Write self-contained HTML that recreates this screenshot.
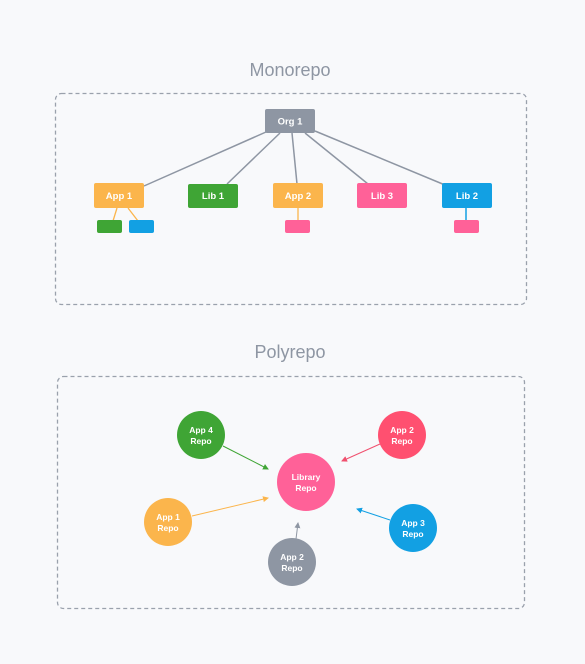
<!DOCTYPE html>
<html><head><style>
body{margin:0;background:#f8f9fb;}
svg text{font-family:"Liberation Sans",sans-serif;}
</style></head><body>
<svg width="585" height="659" viewBox="0 0 585 659" xmlns="http://www.w3.org/2000/svg">
<rect width="585" height="659" fill="#f8f9fb"/>
<defs>
<marker id="ag" markerWidth="6" markerHeight="6" refX="5" refY="3" orient="auto"><path d="M0,0 L6,3 L0,6z" fill="#3fa535"/></marker>
<marker id="ar" markerWidth="6" markerHeight="6" refX="5" refY="3" orient="auto"><path d="M0,0 L6,3 L0,6z" fill="#f0506e"/></marker>
<marker id="ay" markerWidth="6" markerHeight="6" refX="5" refY="3" orient="auto"><path d="M0,0 L6,3 L0,6z" fill="#fbb54c"/></marker>
<marker id="ab" markerWidth="6" markerHeight="6" refX="5" refY="3" orient="auto"><path d="M0,0 L6,3 L0,6z" fill="#12a0e3"/></marker>
<marker id="ax" markerWidth="6" markerHeight="6" refX="5" refY="3" orient="auto"><path d="M0,0 L6,3 L0,6z" fill="#8e96a3"/></marker>
</defs>
<text x="290" y="76" font-size="18" fill="#8e96a3" text-anchor="middle">Monorepo</text>
<rect x="55.5" y="93.5" width="471" height="211" rx="6" fill="none" stroke="#9aa1ac" stroke-width="1.3" stroke-dasharray="4,3"/>
<g stroke="#8e96a3" stroke-width="1.5">
<line x1="266" y1="132" x2="144" y2="186"/>
<line x1="280" y1="133" x2="227" y2="184"/>
<line x1="292" y1="133" x2="297" y2="184"/>
<line x1="305" y1="133" x2="368" y2="184"/>
<line x1="315" y1="131" x2="445" y2="185"/>
</g>
<line x1="117" y1="208" x2="113" y2="221" stroke="#fbb54c" stroke-width="1.3"/>
<line x1="128" y1="208" x2="138" y2="221" stroke="#fbb54c" stroke-width="1.3"/>
<line x1="298" y1="208" x2="298" y2="221" stroke="#fbb54c" stroke-width="1.3"/>
<line x1="466" y1="208" x2="466" y2="221" stroke="#12a0e3" stroke-width="1.5"/>
<g font-size="9.5" fill="#fff" text-anchor="middle" font-weight="bold">
<rect x="265" y="109" width="50" height="24" rx="2" fill="#8e96a3"/><text x="290" y="124.5">Org 1</text>
<rect x="94" y="183" width="50" height="25" rx="2" fill="#fbb54c"/><text x="119" y="199">App 1</text>
<rect x="188" y="184" width="50" height="24" rx="2" fill="#3fa535"/><text x="213" y="199">Lib 1</text>
<rect x="273" y="183" width="50" height="25" rx="2" fill="#fbb54c"/><text x="298" y="199">App 2</text>
<rect x="357" y="183" width="50" height="25" rx="2" fill="#ff6198"/><text x="382" y="199">Lib 3</text>
<rect x="442" y="183" width="50" height="25" rx="2" fill="#12a0e3"/><text x="467" y="199">Lib 2</text>
</g>
<rect x="97" y="220" width="25" height="13" rx="2" fill="#3fa535"/>
<rect x="129" y="220" width="25" height="13" rx="2" fill="#12a0e3"/>
<rect x="285" y="220" width="25" height="13" rx="2" fill="#ff6198"/>
<rect x="454" y="220" width="25" height="13" rx="2" fill="#ff6198"/>

<text x="290" y="358" font-size="18" fill="#8e96a3" text-anchor="middle">Polyrepo</text>
<rect x="57.5" y="376.5" width="467" height="232" rx="6" fill="none" stroke="#9aa1ac" stroke-width="1.3" stroke-dasharray="4,3"/>
<line x1="223" y1="446" x2="268" y2="469" stroke="#3fa535" stroke-width="1" marker-end="url(#ag)"/>
<line x1="380" y1="444" x2="342" y2="461" stroke="#f0506e" stroke-width="1" marker-end="url(#ar)"/>
<line x1="192" y1="516" x2="268" y2="498" stroke="#fbb54c" stroke-width="1" marker-end="url(#ay)"/>
<line x1="390" y1="520" x2="357" y2="509" stroke="#12a0e3" stroke-width="1" marker-end="url(#ab)"/>
<line x1="296" y1="539" x2="298" y2="523" stroke="#8e96a3" stroke-width="1" marker-end="url(#ax)"/>
<g font-size="8.5" fill="#fff" text-anchor="middle" font-weight="bold">
<circle cx="201" cy="435" r="24" fill="#3fa535"/><text x="201" y="433">App 4</text><text x="201" y="444">Repo</text>
<circle cx="306" cy="482" r="29" fill="#ff6198"/><text x="306" y="480">Library</text><text x="306" y="491">Repo</text>
<circle cx="402" cy="435" r="24" fill="#ff5070"/><text x="402" y="433">App 2</text><text x="402" y="444">Repo</text>
<circle cx="168" cy="522" r="24" fill="#fbb54c"/><text x="168" y="520">App 1</text><text x="168" y="531">Repo</text>
<circle cx="413" cy="528" r="24" fill="#12a0e3"/><text x="413" y="526">App 3</text><text x="413" y="537">Repo</text>
<circle cx="292" cy="562" r="24" fill="#8e96a3"/><text x="292" y="560">App 2</text><text x="292" y="571">Repo</text>
</g>
</svg>
</body></html>
